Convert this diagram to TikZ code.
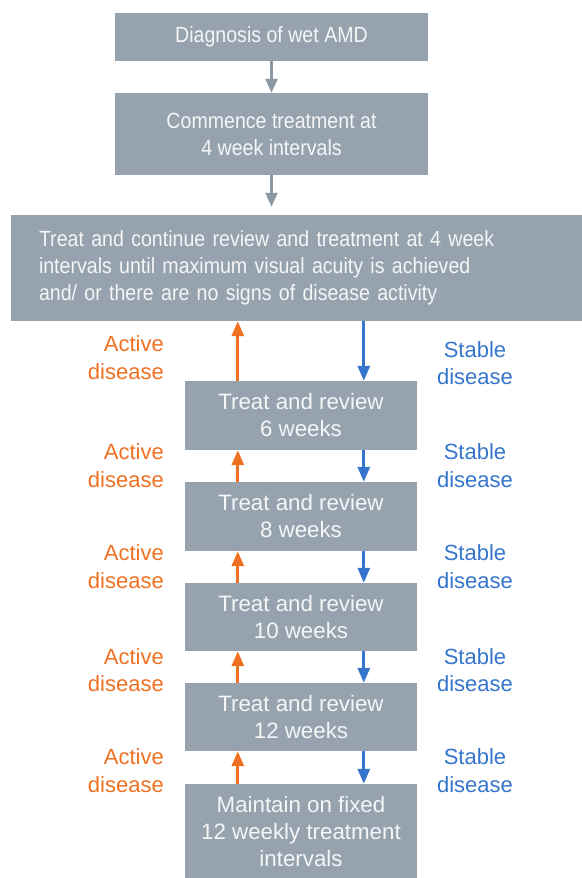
\documentclass[tikz,border=0pt]{standalone}
\usepackage{fontspec}
\setmainfont{Liberation Sans}
\newfontfamily\narrowsans[FakeStretch=0.89]{Liberation Sans}
\usetikzlibrary{arrows.meta}
\definecolor{boxgray}{HTML}{96A2AE}
\definecolor{arrowgray}{HTML}{8C98A4}
\definecolor{actorange}{HTML}{F07022}
\definecolor{stblue}{HTML}{3575CC}
\definecolor{boxtext}{HTML}{F4F6F8}
\begin{document}
\begin{tikzpicture}[x=1pt,y=-1pt,
  box/.style={rectangle,fill=boxgray,text=boxtext,inner sep=0pt,align=center,
    font=\narrowsans\fontsize{22}{27}\selectfont},
  stepbox/.style={box,minimum width=232pt,font=\rmfamily\fontsize{22.3}{27}\selectfont},
  flow/.style={draw=arrowgray,line width=2.4pt,-{Triangle[length=14pt,width=12pt]}},
  upar/.style={draw=actorange,line width=3pt,-{Triangle[length=15pt,width=12pt]}},
  dnar/.style={draw=stblue,line width=3pt,-{Triangle[length=15pt,width=12pt]}},
  actlab/.style={text=actorange,align=right,anchor=east,inner sep=0pt,font=\fontsize{22}{27.5}\selectfont},
  stlab/.style={text=stblue,align=center,inner sep=0pt,font=\fontsize{22}{27.5}\selectfont}]
\useasboundingbox (0,0) rectangle (581,878);

% main steps
\node[box,minimum width=313pt,minimum height=48pt] (diag) at (271.5,37) {Diagnosis of wet AMD};
\node[box,minimum width=313pt,minimum height=82pt] (comm) at (271.5,134) {Commence treatment at\\4 week intervals};
\node[box,minimum width=571pt,minimum height=106pt,text width=515pt,inner xsep=28pt,align=left] (loop) at (296.5,268)
  {Treat and continue review and treatment at 4 week\\intervals until maximum visual acuity is achieved\\and/ or there are no signs of disease activity};

% interval steps
\node[stepbox,minimum height=69pt] (w6) at (301,415.5) {Treat and review\\6 weeks};
\node[stepbox,minimum height=69pt] (w8) at (301,516.5) {Treat and review\\8 weeks};
\node[stepbox,minimum height=68pt] (w10) at (301,617) {Treat and review\\10 weeks};
\node[stepbox,minimum height=68pt] (w12) at (301,717) {Treat and review\\12 weeks};
\node[stepbox,minimum height=96pt] (fix) at (301,832) {Maintain on fixed\\12 weekly treatment\\intervals};

% downward flow
\draw[flow] (diag.south) -- (comm.north);
\draw[flow] (comm.south) -- ([yshift=8pt]loop.north -| comm.south);

% active disease: step back up
\draw[upar] ([xshift=53pt]w6.north west) -- ([xshift=53pt]w6.north west |- loop.south);
\draw[upar] ([xshift=53pt]w8.north west) -- ([xshift=53pt]w6.south west);
\draw[upar] ([xshift=53pt]w10.north west) -- ([xshift=53pt]w8.south west);
\draw[upar] ([xshift=53pt]w12.north west) -- ([xshift=53pt]w10.south west);
\draw[upar] ([xshift=53pt]fix.north west) -- ([xshift=53pt]w12.south west);

% stable disease: step down
\draw[dnar] ([xshift=179pt]w6.north west |- loop.south) -- ([xshift=179pt]w6.north west);
\draw[dnar] ([xshift=179pt]w6.south west) -- ([xshift=179pt]w8.north west);
\draw[dnar] ([xshift=179pt]w8.south west) -- ([xshift=179pt]w10.north west);
\draw[dnar] ([xshift=179pt]w10.south west) -- ([xshift=179pt]w12.north west);
\draw[dnar] ([xshift=179pt]w12.south west) -- ([xshift=179pt]fix.north west);

% labels
\node[actlab] (a1) at (164,357.5) {Active\\disease};
\node[actlab] (a2) at (164,465.5) {Active\\disease};
\node[actlab] (a3) at (164,566.5) {Active\\disease};
\node[actlab] (a4) at (164,670) {Active\\disease};
\node[actlab] (a5) at (164,770.5) {Active\\disease};
\node[stlab] (s1) at (475,363) {Stable\\disease};
\node[stlab] (s2) at (475,465.5) {Stable\\disease};
\node[stlab] (s3) at (475,566.5) {Stable\\disease};
\node[stlab] (s4) at (475,670) {Stable\\disease};
\node[stlab] (s5) at (475,770.5) {Stable\\disease};
\end{tikzpicture}
\end{document}
